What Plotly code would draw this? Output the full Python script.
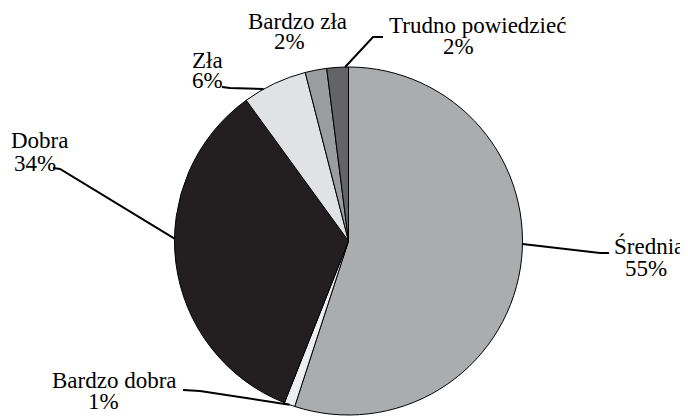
import math
import plotly.graph_objects as go

# data
labels = ['Średnia', 'Bardzo dobra', 'Dobra', 'Zła', 'Bardzo zła', 'Trudno powiedzieć']
values = [55, 1, 34, 6, 2, 2]
pct_text = ['55%', '1%', '34%', '6%', '2%', '2%']
colors = ['#abacae', '#eeeff0', '#231f20', '#e1e2e4', '#9b9c9e', '#646466']

# the page body has an 8px margin, so the figure starts at (8, 8)
OFF = 8
W, H = 688 - OFF, 416 - OFF
# pie box in page pixels (left, top, right, bottom)
PIE_BOX = (174, 67, 523, 415)

# label placement in page pixels: name centre, percent centre, leader (elbow, end), angle shift
label_layout = {
    'Średnia': dict(name=(649, 246), pct=(646, 268), leader=[(600, 253), (609, 253)], shift=-8),
    'Bardzo dobra': dict(name=(114, 380), pct=(103, 401), leader=[(200, 391), (183, 390)], shift=0),
    'Dobra': dict(name=(39, 141), pct=(35, 163), leader=[(60, 169), (53, 168)], shift=8),
    'Zła': dict(name=(207, 60), pct=(207, 80), leader=[(230, 88), (222, 87)], shift=-4),
    'Bardzo zła': dict(name=(297, 21), pct=(289, 41), leader=None, shift=0),
    'Trudno powiedzieć': dict(name=(477, 26), pct=(458, 46), leader=[(373, 37), (383, 37)], shift=2.5),
}

FONT = dict(family='Liberation Serif, Times New Roman, serif', size=23, color='black')


def px_to_paper(x, y):
    return (x - OFF) / W, 1 - (y - OFF) / H


fig = go.Figure()
x0, y1 = px_to_paper(PIE_BOX[0], PIE_BOX[1])
x1, y0 = px_to_paper(PIE_BOX[2], PIE_BOX[3])
fig.add_trace(go.Pie(
    labels=labels,
    values=values,
    sort=False,
    direction='clockwise',
    rotation=0,
    textinfo='none',
    hoverinfo='label+percent',
    marker=dict(colors=colors, line=dict(color='black', width=1)),
    domain=dict(x=[x0, x1], y=[max(y0, 0), y1]),
    showlegend=False,
))

cx = (PIE_BOX[0] + PIE_BOX[2]) / 2
cy = (PIE_BOX[1] + PIE_BOX[3]) / 2
r = min(PIE_BOX[2] - PIE_BOX[0], PIE_BOX[3] - PIE_BOX[1]) / 2
total = sum(values)

annotations = []
shapes = []
cum = 0
for lab, val, pct in zip(labels, values, pct_text):
    mid = (cum + val / 2) / total * 360
    cum += val
    lay = label_layout[lab]
    for txt, pos in ((lab, lay['name']), (pct, lay['pct'])):
        x, y = px_to_paper(*pos)
        annotations.append(dict(x=x, y=y, xref='paper', yref='paper', text=txt,
                                showarrow=False, xanchor='center', yanchor='middle', font=FONT))
    if lay['leader']:
        ang = math.radians(mid + lay['shift'])
        pts = [(cx + r * math.sin(ang), cy - r * math.cos(ang))] + lay['leader']
        path = 'M ' + ' L '.join('%.4f,%.4f' % px_to_paper(*p) for p in pts)
        shapes.append(dict(type='path', path=path, xref='paper', yref='paper',
                           line=dict(color='black', width=2)))

fig.update_layout(
    width=W,
    height=H,
    margin=dict(l=0, r=0, t=0, b=0),
    paper_bgcolor='white',
    plot_bgcolor='white',
    annotations=annotations,
    shapes=shapes,
)

fig.write_html("out.html")
